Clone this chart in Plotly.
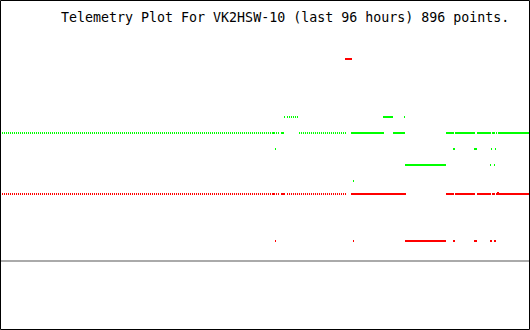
import plotly.graph_objects as go

# Time axis: hours over the last 96 h; values in plot units
TITLE = "Telemetry Plot For VK2HSW-10 (last 96 hours) 896 points."

# Green channel: (start_hour, end_hour) runs for each level
green_main_value = 197
green_main_dotted_start = [0.182, 54.182]
green_main_dotted_end = [50.727, 62.909]
green_main_solid_start = [49.273, 50.909, 63.636, 71.273, 80.909, 82.545, 86.545, 89.273, 90.0, 90.364]
green_main_solid_end = [49.818, 51.455, 69.636, 73.455, 82.364, 86.182, 89.091, 89.818, 90.182, 96.0]

green_high_value = 213
green_high_dotted_start = [52.0]
green_high_dotted_end = [54.182]
green_high_solid_start = [51.455, 69.455, 73.273]
green_high_solid_end = [51.636, 71.273, 73.455]

green_mid_value = 181
green_mid_start = [49.818, 82.182, 86.0, 89.091, 89.818]
green_mid_end = [50.0, 82.545, 86.545, 89.273, 90.0]

green_low_value = 165
green_low_start = [73.455, 88.909, 89.636]
green_low_end = [80.909, 89.091, 89.818]

green_lower_value = 149
green_lower_start = [64.0]
green_lower_end = [64.182]

# Red channel
red_main_value = 136
red_main_dotted_start = [0.182, 52.0]
red_main_dotted_end = [50.727, 62.909]
red_main_solid_start = [49.273, 50.909, 63.636, 80.909, 82.545, 86.545, 89.273, 90.0]
red_main_solid_end = [49.818, 51.636, 73.636, 82.364, 86.182, 89.091, 89.818, 96.0]

red_blip_value = 137
red_blip_start = [90.182]
red_blip_end = [90.545]

red_top_value = 271
red_top_start = [62.545]
red_top_end = [63.818]

red_low_value = 89
red_low_start = [49.818, 64.0, 73.455, 82.182, 86.0, 88.909, 89.636]
red_low_end = [50.0, 64.182, 80.909, 82.545, 86.545, 89.273, 90.0]

baseline_value = 69

GREEN = "#00ff00"
RED = "#ff0000"

fig = go.Figure()


def add_runs(starts, ends, value, color, dotted=False):
    for s, e in zip(starts, ends):
        fig.add_trace(go.Scatter(
            x=[s, e], y=[value, value], mode="lines",
            line=dict(color=color, width=2, dash="1px,1px" if dotted else "solid"),
            hoverinfo="skip", showlegend=False))


add_runs(green_main_dotted_start, green_main_dotted_end, green_main_value, GREEN, True)
add_runs(green_main_solid_start, green_main_solid_end, green_main_value, GREEN)
add_runs(green_high_dotted_start, green_high_dotted_end, green_high_value, GREEN, True)
add_runs(green_high_solid_start, green_high_solid_end, green_high_value, GREEN)
add_runs(green_mid_start, green_mid_end, green_mid_value, GREEN)
add_runs(green_low_start, green_low_end, green_low_value, GREEN)
add_runs(green_lower_start, green_lower_end, green_lower_value, GREEN)

add_runs(red_main_dotted_start, red_main_dotted_end, red_main_value, RED, True)
add_runs(red_main_solid_start, red_main_solid_end, red_main_value, RED)
add_runs(red_blip_start, red_blip_end, red_blip_value, RED)
add_runs(red_top_start, red_top_end, red_top_value, RED)
add_runs(red_low_start, red_low_end, red_low_value, RED)

W, H = 530, 330
fig.add_shape(type="line", xref="paper", yref="y", x0=1 / W, x1=529 / W,
              y0=baseline_value, y1=baseline_value,
              line=dict(color="#aaaaaa", width=2), layer="below")
fig.add_shape(type="rect", xref="paper", yref="paper",
              x0=0.5 / W, x1=529.5 / W, y0=0.5 / H, y1=329.5 / H,
              line=dict(color="black", width=1), fillcolor="rgba(0,0,0,0)")

fig.add_annotation(text=TITLE, xref="paper", yref="y", x=59 / W, y=H - 17,
                   xanchor="left", yanchor="middle", showarrow=False,
                   font=dict(family="DejaVu Sans Mono", size=13.3, color="black"))

axis_common = dict(showgrid=False, zeroline=False, showticklabels=False,
                   showline=False, ticks="", fixedrange=True)
fig.update_layout(
    width=W, height=H,
    margin=dict(l=0, r=0, t=0, b=0, pad=0),
    paper_bgcolor="white", plot_bgcolor="white",
    xaxis=dict(range=[-1 / 5.5, 529 / 5.5], **axis_common),
    yaxis=dict(range=[0, H], **axis_common),
    showlegend=False,
)

fig.write_html("out.html", config={"displayModeBar": False})
